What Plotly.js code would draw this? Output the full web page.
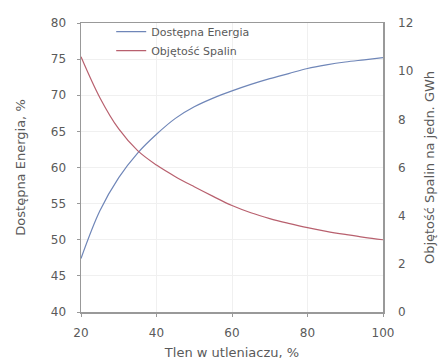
<!DOCTYPE html>
<html><head><meta charset="utf-8">
<script src="https://cdn.plot.ly/plotly-3.0.1.min.js"></script>
<style>html,body{margin:0;padding:0;background:#fff}#chart{width:442px;height:363px}</style>
</head><body><div id="chart"></div>
<script>
const oxygen = [20,25,30,35,40,45,50,55,60,65,70,75,80,85,90,95,100];
const energy = [47.4,54.0,58.6,62.0,64.6,66.8,68.4,69.6,70.6,71.5,72.3,73.0,73.7,74.2,74.6,74.9,75.2];
const flueGas = [10.6,8.9,7.6,6.7,6.1,5.62,5.2,4.8,4.42,4.12,3.88,3.68,3.5,3.35,3.22,3.1,3.0];
const seriesNames = ['Dostępna Energia','Objętość Spalin'];

const fam = 'DejaVu Sans, Verdana, sans-serif';
const txt = '#5a5a5a';
const fontC = {family:fam, size:12, color:txt};
const traces = [
  {x:oxygen, y:energy, name:seriesNames[0], type:'scatter', mode:'lines', line:{color:'#6f86b8', width:1.2, shape:'spline', smoothing:1}, yaxis:'y'},
  {x:oxygen, y:flueGas, name:seriesNames[1], type:'scatter', mode:'lines', line:{color:'#b8606e', width:1.2, shape:'spline', smoothing:1}, yaxis:'y2'}
];
const layout = {
  width:442, height:363,
  margin:{l:81, r:59, t:23, b:51, autoexpand:false},
  paper_bgcolor:'#fff', plot_bgcolor:'#fff',
  font:fontC,
  showlegend:true,
  legend:{x:0.1, y:1.02, xanchor:'left', yanchor:'top', bgcolor:'rgba(0,0,0,0)', font:{family:fam, size:11, color:txt}, tracegroupgap:0, itemwidth:30},
  xaxis:{range:[20,100], tickvals:[20,40,60,80,100], showline:true, mirror:true, linecolor:'#999', linewidth:1.5,
    showgrid:true, gridcolor:'#f0f0f0', zeroline:false, ticks:'outside', ticklen:3, tickcolor:'#999', ticklabelstandoff:6,
    tickfont:{family:fam, size:12, color:txt}, automargin:false,
    title:{text:'Tlen w utleniaczu, %', font:{family:fam, size:13, color:txt}, standoff:9}},
  yaxis:{range:[40,80], dtick:5, showline:true, mirror:true, linecolor:'#999', linewidth:1.5,
    showgrid:true, gridcolor:'#f0f0f0', zeroline:false, ticks:'outside', ticklen:3, tickcolor:'#999', ticklabelstandoff:8,
    tickfont:{family:fam, size:12, color:txt}, automargin:false,
    title:{text:'Dostępna Energia, %', font:{family:fam, size:13, color:txt}, standoff:22}},
  yaxis2:{range:[0,12], dtick:2, overlaying:'y', side:'right', showgrid:false, zeroline:false,
    showline:false, ticks:'', ticklabelstandoff:14, automargin:false,
    tickfont:{family:fam, size:12, color:txt},
    title:{text:'Objętość Spalin na jedn. GWh', font:{family:fam, size:13, color:txt}, standoff:12}}
};
Plotly.newPlot('chart', traces, layout, {displayModeBar:false, staticPlot:true});
</script></body></html>
